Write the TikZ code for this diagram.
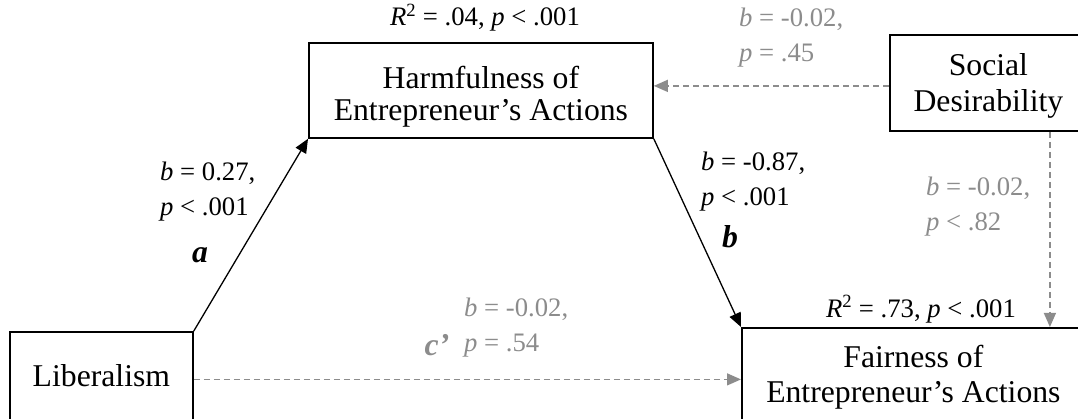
\documentclass[tikz,border=0pt]{standalone}
\usepackage{fontspec}
\setmainfont{Liberation Serif}
\usetikzlibrary{arrows.meta}
\definecolor{pathgray}{gray}{0.55}
\newcommand{\lnup}[1]{\rule{0pt}{#1}}
\newcommand{\lndown}[1]{\rule[-#1]{0pt}{#1}}

\begin{document}
\begin{tikzpicture}[x=1pt,y=-1pt,>={Triangle[length=14pt,width=12pt]},
  var/.style={draw,line width=1.8pt,anchor=north west,inner sep=0pt,align=center,font=\fontsize{31.7}{32}\selectfont},
  lbl/.style={anchor=north west,inner sep=0pt,align=left,yshift=20pt,font=\fontsize{26.7}{35}\selectfont},
  rsq/.style={anchor=base,inner sep=0pt,font=\fontsize{26.7}{32}\selectfont},
  letter/.style={anchor=base,inner sep=0pt,font=\fontsize{31.7}{36}\bfseries\itshape},
  solid path/.style={->,line width=1.3pt},
  dash path/.style={->,line width=1.3pt,pathgray,dash pattern=on 6pt off 4pt}]
  \useasboundingbox (0,0) rectangle (1078,419);
  % variables
  \node[var,minimum width=344pt] (harm) at (308,42) {\lnup{46pt}Harmfulness of\\Entrepreneur’s Actions\lndown{17pt}};
  \node[var,minimum width=197pt,font=\fontsize{31.7}{36}\selectfont] (soc) at (889,34) {\lnup{41pt}Social\\Desirability\lndown{19pt}};
  \node[var,minimum width=343pt,font=\fontsize{31.7}{35}\selectfont] (fair) at (741,327) {\lnup{40pt}Fairness of\\Entrepreneur’s Actions\lndown{40pt}};
  \node[var,minimum width=183pt] (lib) at (9,331) {\lnup{55pt}\lndown{40pt}Liberalism};
  % paths
  \draw[solid path] (lib.north east) -- (harm.south west);
  \draw[solid path] (harm.south east) -- (fair.north west);
  \draw[dash path] (lib.east) -- (lib.east -| fair.west);
  \draw[dash path] ([yshift=-3pt]soc.west) -- ([yshift=-3pt]soc.west -| harm.east);
  \draw[dash path] ([xshift=61.5pt]soc.south) -- ([xshift=61.5pt]soc.south |- fair.north);
  % coefficients
  \node[rsq] (rharm) at (485,26) {\textit{R}\textsuperscript{2} = .04, \textit{p} < .001};
  \node[rsq] (rfair) at (921,317) {\textit{R}\textsuperscript{2} = .73, \textit{p} < .001};
  \node[lbl] (ca) at (160,182) {\textit{b} = 0.27,\\\textit{p} < .001};
  \node[lbl] (cb) at (701,172) {\textit{b} = -0.87,\\\textit{p} < .001};
  \node[lbl,pathgray] (csh) at (739,28) {\textit{b} = -0.02,\\\textit{p} = .45};
  \node[lbl,pathgray] (csf) at (926,197) {\textit{b} = -0.02,\\\textit{p} < .82};
  \node[lbl,pathgray] (cc) at (464,318) {\textit{b} = -0.02,\\\textit{p} = .54};
  \node[letter] (la) at (200,263) {a};
  \node[letter] (lb) at (730,248) {b};
  \node[letter,pathgray] (lc) at (437,355) {c’};
\end{tikzpicture}
\end{document}
